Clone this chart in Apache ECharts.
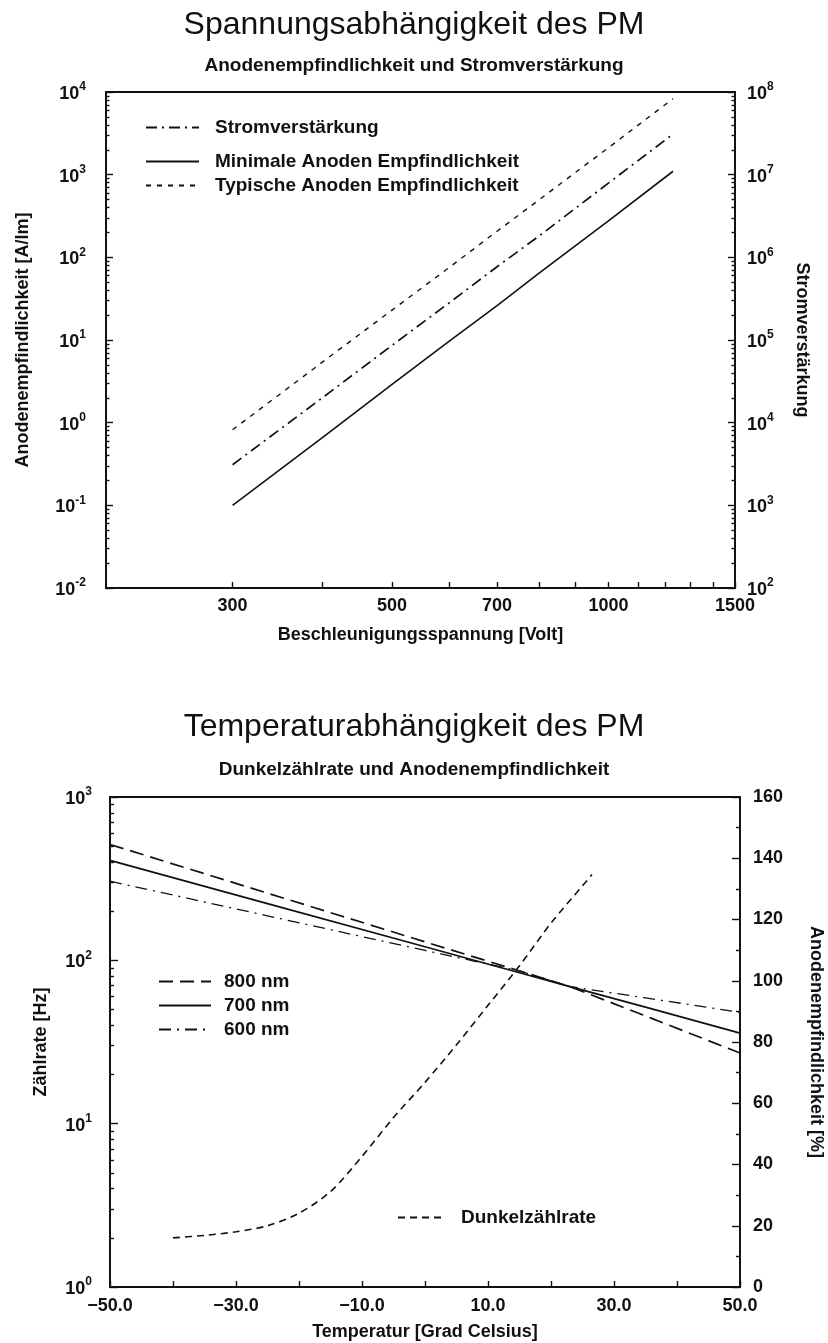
<!DOCTYPE html>
<html>
<head>
<meta charset="utf-8">
<script src="https://cdn.jsdelivr.net/npm/echarts@6/dist/echarts.min.js"></script>
<style>
html, body { margin: 0; padding: 0; background: #fff; }
#chart { width: 828px; height: 1343px; }
</style>
</head>
<body>
<div id="chart"></div>
<script>
// ---- Spannungsabhängigkeit: readings per acceleration voltage ----
const voltage = [300, 400, 500, 600, 700, 800, 1000, 1230];
const stromverstaerkung = [3100, 20000, 86000, 280000, 770000, 1800000, 7900000, 31000000];
const minAnodenEmpf = [0.1, 0.66, 2.9, 9.6, 26, 64, 276, 1100];
const typAnodenEmpf = [0.82, 5.4, 23, 75, 207, 493, 2120, 8300];
const voltLabelValues = [300, 500, 700, 1000, 1500];
const voltTickValues = [300, 400, 500, 600, 700, 800, 900, 1000, 1100, 1200, 1300, 1400, 1500];

// ---- Temperaturabhängigkeit ----
const darkTemp = [-40, -35, -30, -25, -20, -15, -10, -5, 0, 5, 10, 15, 20, 25, 26.5];
const darkRate = [2.0, 2.07, 2.18, 2.37, 2.83, 3.84, 6.3, 10.9, 17.9, 30.4, 53, 92.5, 169, 286, 335];
const sensTemp = [-50, -25, 0, 15, 23, 35, 50];
const sens800 = [144.5, 128.6, 112.7, 103.2, 98.1, 88.5, 76.4];
const sens700 = [139.3, 125.2, 111.1, 102.6, 98.1, 91.4, 82.9];
const sens600 = [132.5, 121.2, 109.9, 103.2, 98.1, 94.4, 89.7];
const tempLabelValues = [-50, -30, -10, 10, 30, 50];

const FONT = '"Liberation Sans", Arial, Helvetica, sans-serif';
const INK = '#111';

const pairs = (xs, ys) => xs.map((x, i) => [x, ys[i]]);

// "10^n" labels for the logarithmic axes
const powLabel = v => {
  const e = Math.round(Math.log10(v));
  return '{b|10}{s|' + e + '}';
};
const powRich = {
  b: { fontFamily: FONT, fontSize: 18, fontWeight: 'bold', color: INK, lineHeight: 22, verticalAlign: 'bottom' },
  s: { fontFamily: FONT, fontSize: 12, fontWeight: 'bold', color: INK, lineHeight: 12, verticalAlign: 'top' }
};

const lineCol = { color: INK, width: 1.8 };
const tickCol = { color: INK, width: 1.4 };
const labelStyle = { fontFamily: FONT, fontSize: 18, fontWeight: 'bold', color: INK };
const nameStyle = { fontFamily: FONT, fontSize: 18, fontWeight: 'bold', color: INK };

// legend entries show only the line pattern, no marker
const legendBase = {
  orient: 'vertical', padding: 0, itemHeight: 20, itemGap: 5, selectedMode: false,
  itemStyle: { color: 'transparent', borderColor: 'transparent', borderWidth: 0, opacity: 0 }
};
const legendText = pad => ({ fontFamily: FONT, fontSize: 19, fontWeight: 'bold', color: INK, padding: [0, 0, 0, pad] });

const option = {
  animation: false,
  backgroundColor: '#fff',
  color: [INK],
  textStyle: { fontFamily: FONT, color: INK },
  title: [
    { text: 'Spannungsabhängigkeit des PM', left: 'center', top: 9, padding: 0,
      textStyle: { fontFamily: FONT, fontSize: 32, fontWeight: 'normal', color: INK } },
    { text: 'Anodenempfindlichkeit und Stromverstärkung', left: 'center', top: 56, padding: 0,
      textStyle: { fontFamily: FONT, fontSize: 19, fontWeight: 'bold', color: INK } },
    { text: 'Temperaturabhängigkeit des PM', left: 'center', top: 711, padding: 0,
      textStyle: { fontFamily: FONT, fontSize: 32, fontWeight: 'normal', color: INK } },
    { text: 'Dunkelzählrate und Anodenempfindlichkeit', left: 'center', top: 760, padding: 0,
      textStyle: { fontFamily: FONT, fontSize: 19, fontWeight: 'bold', color: INK } }
  ],
  legend: [
    Object.assign({}, legendBase, {
      data: ['Stromverstärkung'], left: 145, top: 118, itemWidth: 53, textStyle: legendText(11)
    }),
    Object.assign({}, legendBase, {
      data: ['Minimale Anoden Empfindlichkeit', 'Typische Anoden Empfindlichkeit'],
      left: 145, top: 152, itemWidth: 53, textStyle: legendText(11)
    }),
    Object.assign({}, legendBase, {
      data: ['800 nm', '700 nm', '600 nm'], left: 158, top: 972, itemWidth: 52, textStyle: legendText(8)
    }),
    Object.assign({}, legendBase, {
      data: ['Dunkelzählrate'], left: 397, top: 1208, itemWidth: 48, textStyle: legendText(10)
    })
  ],
  grid: [
    { left: 106, top: 92, width: 629, height: 496, show: true, borderColor: INK, borderWidth: 1.8,
      containLabel: false, outerBoundsMode: 'none' },
    { left: 110, top: 797, width: 630, height: 490, show: true, borderColor: INK, borderWidth: 1.8,
      containLabel: false, outerBoundsMode: 'none' }
  ],
  xAxis: [
    // logarithmic voltage scale carrying the series
    { gridIndex: 0, type: 'log', logBase: 10, min: 200, max: 1500, position: 'bottom',
      axisLine: { show: true, onZero: false, lineStyle: lineCol },
      axisTick: { show: false }, axisLabel: { show: false }, splitLine: { show: false } },
    // tick marks and labels of the voltage scale (log10 positions)
    { gridIndex: 0, type: 'value', min: Math.log10(200), max: Math.log10(1500), position: 'bottom',
      axisLine: { show: false, onZero: false },
      axisTick: { show: true, inside: true, length: 6, lineStyle: tickCol,
        customValues: voltTickValues.map(v => Math.log10(v)) },
      axisLabel: { show: true, margin: 9, customValues: voltLabelValues.map(v => Math.log10(v)),
        formatter: v => String(Math.round(Math.pow(10, v))), ...labelStyle },
      splitLine: { show: false },
      name: 'Beschleunigungsspannung [Volt]', nameLocation: 'middle', nameGap: 38, nameTextStyle: nameStyle },
    // temperature scale
    { gridIndex: 1, type: 'value', min: -50, max: 50, interval: 10, position: 'bottom',
      axisLine: { show: true, onZero: false, lineStyle: lineCol },
      axisTick: { show: true, inside: true, length: 6, lineStyle: tickCol },
      axisLabel: { show: true, margin: 10, customValues: tempLabelValues,
        formatter: v => v.toFixed(1).replace('-', '\u2212'), ...labelStyle },
      splitLine: { show: false },
      name: 'Temperatur [Grad Celsius]', nameLocation: 'middle', nameGap: 36, nameTextStyle: nameStyle }
  ],
  yAxis: [
    { gridIndex: 0, type: 'log', logBase: 10, min: 0.01, max: 10000, position: 'left',
      axisLine: { show: true, onZero: false, lineStyle: lineCol },
      axisTick: { show: true, inside: true, length: 7, lineStyle: tickCol },
      minorTick: { show: true, splitNumber: 9, length: 3.5, lineStyle: tickCol },
      axisLabel: { margin: 20, formatter: powLabel, rich: powRich },
      splitLine: { show: false },
      name: 'Anodenempfindlichkeit [A/lm]', nameLocation: 'middle', nameGap: 74, nameRotate: 90, nameTextStyle: nameStyle },
    { gridIndex: 0, type: 'log', logBase: 10, min: 100, max: 100000000, position: 'right',
      axisLine: { show: true, onZero: false, lineStyle: lineCol },
      axisTick: { show: true, inside: true, length: 7, lineStyle: tickCol },
      minorTick: { show: true, splitNumber: 9, length: 3.5, lineStyle: tickCol },
      axisLabel: { margin: 12, formatter: powLabel, rich: powRich },
      splitLine: { show: false },
      name: 'Stromverstärkung', nameLocation: 'middle', nameGap: 58, nameRotate: -90, nameTextStyle: nameStyle },
    { gridIndex: 1, type: 'log', logBase: 10, min: 1, max: 1000, position: 'left',
      axisLine: { show: true, onZero: false, lineStyle: lineCol },
      axisTick: { show: true, inside: true, length: 8, lineStyle: tickCol },
      minorTick: { show: true, splitNumber: 9, length: 4, lineStyle: tickCol },
      axisLabel: { margin: 18, formatter: powLabel, rich: powRich },
      splitLine: { show: false },
      name: 'Zählrate [Hz]', nameLocation: 'middle', nameGap: 60, nameRotate: 90, nameTextStyle: nameStyle },
    { gridIndex: 1, type: 'value', min: 0, max: 160, interval: 20, position: 'right',
      axisLine: { show: true, onZero: false, lineStyle: lineCol },
      axisTick: { show: true, inside: true, length: 8, lineStyle: tickCol },
      minorTick: { show: true, splitNumber: 2, length: 4, lineStyle: tickCol },
      axisLabel: { margin: 13, ...labelStyle },
      splitLine: { show: false },
      name: 'Anodenempfindlichkeit [%]', nameLocation: 'middle', nameGap: 67, nameRotate: -90, nameTextStyle: nameStyle }
  ],
  series: [
    { name: 'Stromverstärkung', type: 'line', xAxisIndex: 0, yAxisIndex: 1,
      data: pairs(voltage, stromverstaerkung), symbol: 'none',
      lineStyle: { color: INK, width: 1.7, type: [11, 5, 2, 5] }, itemStyle: { color: INK } },
    { name: 'Minimale Anoden Empfindlichkeit', type: 'line', xAxisIndex: 0, yAxisIndex: 0,
      data: pairs(voltage, minAnodenEmpf), symbol: 'none',
      lineStyle: { color: INK, width: 1.6, type: 'solid' }, itemStyle: { color: INK } },
    { name: 'Typische Anoden Empfindlichkeit', type: 'line', xAxisIndex: 0, yAxisIndex: 0,
      data: pairs(voltage, typAnodenEmpf), symbol: 'none',
      lineStyle: { color: INK, width: 1.4, type: [5, 6] }, itemStyle: { color: INK } },
    { name: '800 nm', type: 'line', xAxisIndex: 2, yAxisIndex: 3,
      data: pairs(sensTemp, sens800), symbol: 'none',
      lineStyle: { color: INK, width: 1.7, type: [14, 7] }, itemStyle: { color: INK } },
    { name: '700 nm', type: 'line', xAxisIndex: 2, yAxisIndex: 3,
      data: pairs(sensTemp, sens700), symbol: 'none',
      lineStyle: { color: INK, width: 1.7, type: 'solid' }, itemStyle: { color: INK } },
    { name: '600 nm', type: 'line', xAxisIndex: 2, yAxisIndex: 3,
      data: pairs(sensTemp, sens600), symbol: 'none',
      lineStyle: { color: INK, width: 1.3, type: [12, 6, 2, 6] }, itemStyle: { color: INK } },
    { name: 'Dunkelzählrate', type: 'line', xAxisIndex: 2, yAxisIndex: 2,
      data: pairs(darkTemp, darkRate), symbol: 'none', smooth: 0.3,
      lineStyle: { color: INK, width: 1.6, type: [7, 5] }, itemStyle: { color: INK } }
  ]
};

const chart = echarts.init(document.getElementById('chart'), null, { renderer: 'canvas' });
chart.setOption(option);
</script>
</body>
</html>
